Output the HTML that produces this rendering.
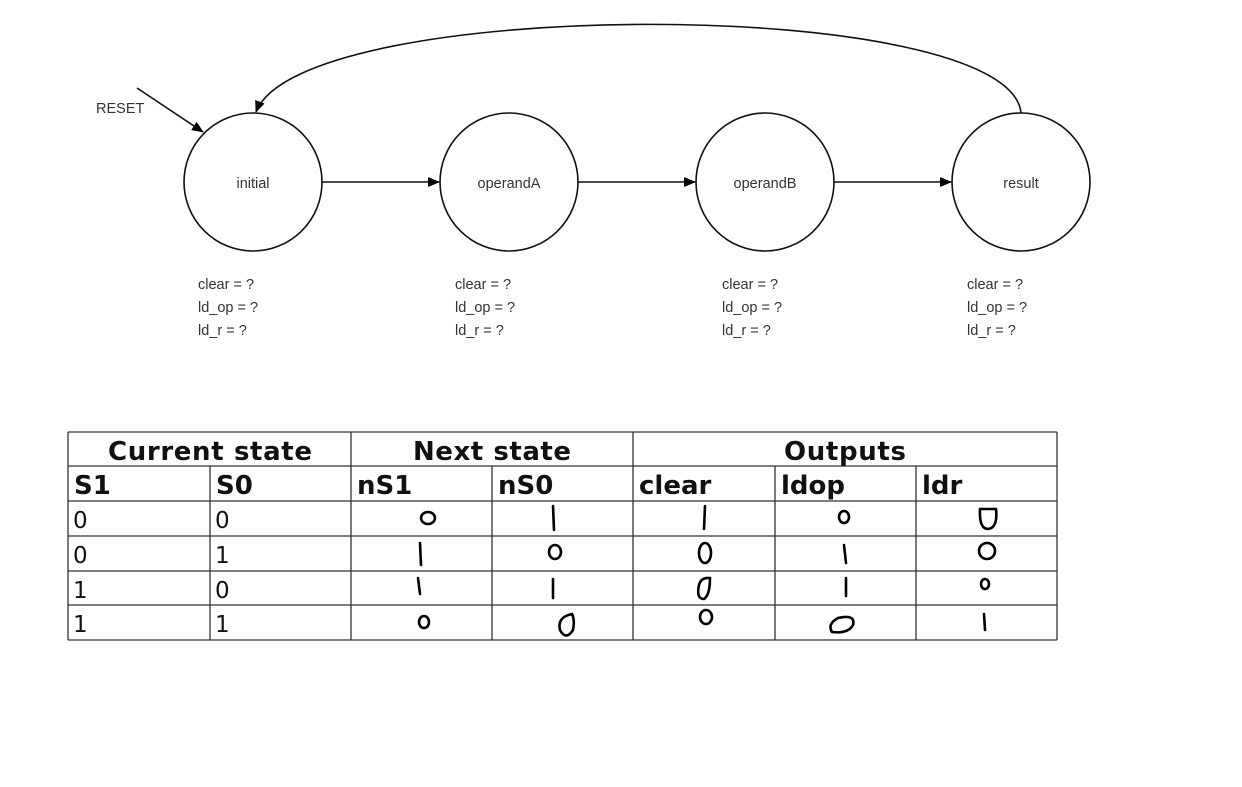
<!DOCTYPE html>
<html><head><meta charset="utf-8"><style>
body{margin:0;background:#fff;width:1242px;height:787px;overflow:hidden}
svg{position:absolute;left:0;top:0}
</style></head><body>
<svg width="1242" height="787" viewBox="0 0 1242 787">
<defs><marker id="a" markerWidth="12" markerHeight="10" refX="11" refY="5" orient="auto" markerUnits="userSpaceOnUse"><path d="M0,0 L12,5 L0,10 Z" fill="#000"/></marker></defs>
<g fill="none" stroke="#111" stroke-width="1.6">
<circle cx="253" cy="182" r="69"/>
<circle cx="509" cy="182" r="69"/>
<circle cx="765" cy="182" r="69"/>
<circle cx="1021" cy="182" r="69"/>
<line x1="322" y1="182" x2="439" y2="182" marker-end="url(#a)"/>
<line x1="578" y1="182" x2="695" y2="182" marker-end="url(#a)"/>
<line x1="834" y1="182" x2="951" y2="182" marker-end="url(#a)"/>
<line x1="137" y1="88" x2="203" y2="132" marker-end="url(#a)"/>
<path d="M1021,113 C1010,-5 300,-5 256,112" marker-end="url(#a)"/>
</g>
<g font-family="Liberation Sans, sans-serif" font-size="14.5" fill="#333">
<text x="96" y="113">RESET</text>
<text x="253" y="188" text-anchor="middle">initial</text>
<text x="509" y="188" text-anchor="middle">operandA</text>
<text x="765" y="188" text-anchor="middle">operandB</text>
<text x="1021" y="188" text-anchor="middle">result</text>
<text x="198" y="289">clear = ?</text><text x="198" y="312">ld_op = ?</text><text x="198" y="335">ld_r = ?</text>
<text x="455" y="289">clear = ?</text><text x="455" y="312">ld_op = ?</text><text x="455" y="335">ld_r = ?</text>
<text x="722" y="289">clear = ?</text><text x="722" y="312">ld_op = ?</text><text x="722" y="335">ld_r = ?</text>
<text x="967" y="289">clear = ?</text><text x="967" y="312">ld_op = ?</text><text x="967" y="335">ld_r = ?</text>
</g>
<g stroke="#333" stroke-width="1.3">
<line x1="68" y1="432" x2="1057" y2="432"/><line x1="68" y1="466" x2="1057" y2="466"/>
<line x1="68" y1="501" x2="1057" y2="501"/><line x1="68" y1="536" x2="1057" y2="536"/>
<line x1="68" y1="571" x2="1057" y2="571"/><line x1="68" y1="605" x2="1057" y2="605"/>
<line x1="68" y1="640" x2="1057" y2="640"/>
<line x1="68" y1="432" x2="68" y2="640"/><line x1="351" y1="432" x2="351" y2="640"/>
<line x1="633" y1="432" x2="633" y2="640"/><line x1="1057" y1="432" x2="1057" y2="640"/>
<line x1="210" y1="466" x2="210" y2="640"/><line x1="492" y1="466" x2="492" y2="640"/>
<line x1="775" y1="466" x2="775" y2="640"/><line x1="916" y1="466" x2="916" y2="640"/>
</g>
<g font-family="DejaVu Sans, sans-serif" font-weight="bold" font-size="26" fill="#111">
<text x="210" y="460" text-anchor="middle" textLength="204">Current state</text>
<text x="492" y="460" text-anchor="middle" textLength="158">Next state</text>
<text x="845" y="460" text-anchor="middle" textLength="122">Outputs</text>
<text x="74" y="494">S1</text><text x="216" y="494">S0</text><text x="357" y="494">nS1</text>
<text x="498" y="494">nS0</text><text x="639" y="494">clear</text><text x="781" y="494">ldop</text><text x="922" y="494">ldr</text>
</g>
<g font-family="DejaVu Sans, sans-serif" font-size="23" fill="#111">
<text x="73" y="528">0</text><text x="215" y="528">0</text>
<text x="73" y="563">0</text><text x="215" y="563">1</text>
<text x="73" y="598">1</text><text x="215" y="598">0</text>
<text x="73" y="632">1</text><text x="215" y="632">1</text>
</g>
<g fill="none" stroke="#000" stroke-width="2.6" stroke-linecap="round">
<ellipse cx="428" cy="518" rx="7" ry="6"/>
<line x1="553" y1="506" x2="554" y2="530"/>
<line x1="705" y1="506" x2="704" y2="529"/>
<ellipse cx="844" cy="517" rx="5" ry="6"/>
<path d="M980,509 L996,509 Q998,528 988,529 Q979,529 980,509 Z"/>
<line x1="420" y1="543" x2="421" y2="565"/>
<ellipse cx="555" cy="552" rx="6" ry="7"/>
<ellipse cx="705" cy="553" rx="6" ry="10"/>
<line x1="844" y1="545" x2="846" y2="563"/>
<ellipse cx="987" cy="551" rx="8" ry="8"/>
<line x1="418" y1="578" x2="420" y2="594"/>
<line x1="553" y1="579" x2="553" y2="598"/>
<path d="M699,585 Q701,577 710,578 Q710,595 704,599 Q696,599 699,585 Z"/>
<line x1="846" y1="578" x2="846" y2="596"/>
<ellipse cx="985" cy="584" rx="4" ry="5"/>
<ellipse cx="424" cy="622" rx="5" ry="6"/>
<path d="M572,614 Q557,617 560,630 Q566,641 573,630 Q575,620 572,614"/>
<ellipse cx="706" cy="617" rx="6" ry="7"/>
<path d="M838,618 Q856,614 853,625 Q848,634 832,632 Q827,624 838,618 Z"/>
<line x1="984" y1="614" x2="985" y2="630"/>
</g>
</svg>
</body></html>
